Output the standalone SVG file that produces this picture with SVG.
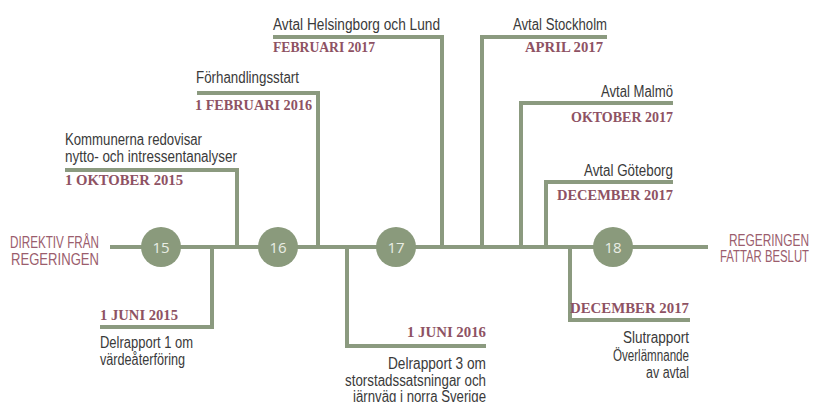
<svg xmlns="http://www.w3.org/2000/svg" width="813" height="402" viewBox="0 0 813 402">
<style>
.ln{stroke:#8b9a7f;stroke-width:4;fill:none;stroke-linecap:butt}
.dot{fill:#8a9a7c}
.num{font-family:"Open Sans","Liberation Sans",sans-serif;font-size:15px;fill:#e9ede4;text-anchor:middle}
.lbl{font-family:"Liberation Sans","DejaVu Sans",sans-serif;font-size:16px;fill:#3a3a3a}
.dt{font-family:"Liberation Serif","DejaVu Serif",serif;font-weight:bold;font-size:14px;fill:#8e5263}
.ttl{font-family:"Liberation Sans","DejaVu Sans",sans-serif;font-size:17px;fill:#9b5d6d}
.e{text-anchor:end}
</style>
<rect width="813" height="402" fill="#ffffff"/>
<g id="connectors">
<line class="ln" x1="110" y1="247" x2="708" y2="247"/>
<polyline class="ln" points="65,170 237,170 237,247"/>
<polyline class="ln" points="100,327 212,327 212,247"/>
<polyline class="ln" points="197,93 318,93 318,247"/>
<polyline class="ln" points="273,37 442,37 442,247"/>
<polyline class="ln" points="607,37 482,37 482,247"/>
<polyline class="ln" points="673,103 521,103 521,247"/>
<polyline class="ln" points="673,182 546,182 546,247"/>
<polyline class="ln" points="486,346 347,346 347,247"/>
<polyline class="ln" points="690,320 570,320 570,247"/>
</g>
<g id="start">
<text class="ttl" x="10" y="248" textLength="89" lengthAdjust="spacingAndGlyphs">DIREKTIV FRÅN</text>
<text class="ttl" x="11" y="265" textLength="88" lengthAdjust="spacingAndGlyphs">REGERINGEN</text>
</g>
<g id="end">
<text class="ttl e" x="809" y="246" textLength="80" lengthAdjust="spacingAndGlyphs">REGERINGEN</text>
<text class="ttl e" x="809" y="262" style="font-size:16px" textLength="89" lengthAdjust="spacingAndGlyphs">FATTAR BESLUT</text>
</g>
<g id="year15"><circle class="dot" cx="161" cy="247" r="20"/><text class="num" x="161" y="252.5">15</text></g>
<g id="year16"><circle class="dot" cx="278" cy="247" r="20"/><text class="num" x="278" y="252.5">16</text></g>
<g id="year17"><circle class="dot" cx="396" cy="247" r="20"/><text class="num" x="396" y="252.5">17</text></g>
<g id="year18"><circle class="dot" cx="613" cy="247" r="20"/><text class="num" x="613" y="252.5">18</text></g>
<g id="ev-okt2015">
<text class="lbl" x="65" y="145" textLength="137" lengthAdjust="spacingAndGlyphs">Kommunerna redovisar</text>
<text class="lbl" x="65" y="162" textLength="172" lengthAdjust="spacingAndGlyphs">nytto- och intressentanalyser</text>
<text class="dt" x="65" y="185" textLength="118" lengthAdjust="spacingAndGlyphs">1 OKTOBER 2015</text>
</g>
<g id="ev-jun2015">
<text class="dt" x="100" y="320" textLength="78" lengthAdjust="spacingAndGlyphs">1 JUNI 2015</text>
<text class="lbl" x="100" y="348" textLength="93" lengthAdjust="spacingAndGlyphs">Delrapport 1 om</text>
<text class="lbl" x="100" y="365" textLength="85" lengthAdjust="spacingAndGlyphs">värdeåterföring</text>
</g>
<g id="ev-feb2016">
<text class="lbl" x="196" y="83" textLength="103" lengthAdjust="spacingAndGlyphs">Förhandlingsstart</text>
<text class="dt" x="195" y="110" textLength="117" lengthAdjust="spacingAndGlyphs">1 FEBRUARI 2016</text>
</g>
<g id="ev-feb2017">
<text class="lbl" x="273" y="30" textLength="167" lengthAdjust="spacingAndGlyphs">Avtal Helsingborg och Lund</text>
<text class="dt" x="273" y="52" textLength="102" lengthAdjust="spacingAndGlyphs">FEBRUARI 2017</text>
</g>
<g id="ev-jun2016">
<text class="dt" x="407" y="337" textLength="79" lengthAdjust="spacingAndGlyphs">1 JUNI 2016</text>
<text class="lbl" x="388" y="369" textLength="98" lengthAdjust="spacingAndGlyphs">Delrapport 3 om</text>
<text class="lbl" x="345" y="386" textLength="141" lengthAdjust="spacingAndGlyphs">storstadssatsningar och</text>
<text class="lbl" x="353" y="402" textLength="133" lengthAdjust="spacingAndGlyphs">järnväg i norra Sverige</text>
</g>
<g id="ev-apr2017">
<text class="lbl" x="513" y="30" textLength="94" lengthAdjust="spacingAndGlyphs">Avtal Stockholm</text>
<text class="dt" x="525" y="52" textLength="78" lengthAdjust="spacingAndGlyphs">APRIL 2017</text>
</g>
<g id="ev-okt2017">
<text class="lbl" x="601" y="97" textLength="72" lengthAdjust="spacingAndGlyphs">Avtal Malmö</text>
<text class="dt" x="571" y="122" textLength="102" lengthAdjust="spacingAndGlyphs">OKTOBER 2017</text>
</g>
<g id="ev-dec2017a">
<text class="lbl" x="584" y="176" textLength="89" lengthAdjust="spacingAndGlyphs">Avtal Göteborg</text>
<text class="dt" x="557" y="200" textLength="116" lengthAdjust="spacingAndGlyphs">DECEMBER 2017</text>
</g>
<g id="ev-dec2017b">
<text class="dt" x="570" y="313" textLength="119" lengthAdjust="spacingAndGlyphs">DECEMBER 2017</text>
<text class="lbl" x="623" y="343" textLength="66" lengthAdjust="spacingAndGlyphs">Slutrapport</text>
<text class="lbl" x="613" y="361" textLength="76" lengthAdjust="spacingAndGlyphs">Överlämnande</text>
<text class="lbl" x="646" y="378" textLength="43" lengthAdjust="spacingAndGlyphs">av avtal</text>
</g>
</svg>
